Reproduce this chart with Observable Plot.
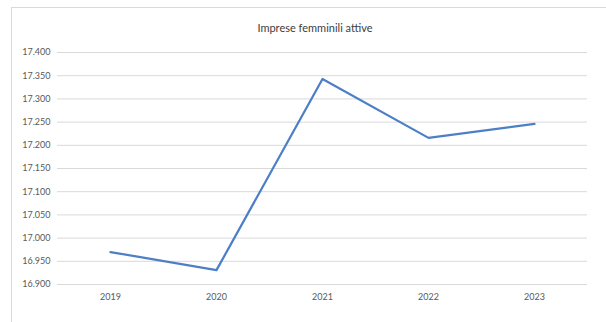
<!DOCTYPE html>
<html>
<head>
<meta charset="utf-8">
<script src="https://cdn.jsdelivr.net/npm/d3@7"></script>
<script src="https://cdn.jsdelivr.net/npm/@observablehq/plot@0.6"></script>
<style>
  body { margin: 0; background: #fff; }
  #wrap { position: relative; width: 606px; height: 322px; overflow: hidden; }
  #frame { position: absolute; left: 11px; top: 7px; right: -2px; bottom: -2px;
           border-left: 1px solid #d9d9d9; border-top: 1px solid #d9d9d9; }
  #title { position: absolute; left: 0; top: 21px; width: 630px; text-align: center;
           font-family: Lato, "Open Sans", sans-serif; font-size: 11px; color: #404040; }
  #chart { position: absolute; left: 0; top: 44px; }
</style>
</head>
<body>
<div id="wrap">
  <div id="frame"></div>
  <div id="title">Imprese femminili attive</div>
  <div id="chart"></div>
</div>
<script>
// Imprese femminili attive, per anno
const years = ["2019", "2020", "2021", "2022", "2023"];
const imprese = [16970, 16931, 17343, 17216, 17246];
const yTicks = [16900, 16950, 17000, 17050, 17100, 17150, 17200, 17250, 17300, 17350, 17400];

const data = years.map((anno, i) => ({anno, valore: imprese[i]}));
const it = d3.formatLocale({decimal: ",", thousands: ".", grouping: [3], currency: ["", " €"]});
const fmt = it.format(",d");

const chart = Plot.plot({
  width: 606,
  height: 278,
  marginLeft: 57,
  marginRight: 19,
  marginTop: 8,
  marginBottom: 38,
  style: {fontFamily: "Lato, 'Open Sans', sans-serif", fontSize: "9px", color: "#595959", background: "transparent"},
  x: {type: "point", domain: years, padding: 0.5, label: null},
  y: {domain: [16900, 17400], label: null},
  marks: [
    Plot.ruleY(yTicks, {stroke: "#d9d9d9", strokeWidth: 1}),
    Plot.axisY({ticks: yTicks, tickFormat: fmt, tickSize: 0, tickPadding: 7, label: null}),
    Plot.axisX({tickSize: 0, tickPadding: 9, label: null}),
    Plot.line(data, {x: "anno", y: "valore", stroke: "#4d7fc6", strokeWidth: 2.25})
  ]
});
document.getElementById("chart").appendChild(chart);
</script>
</body>
</html>
